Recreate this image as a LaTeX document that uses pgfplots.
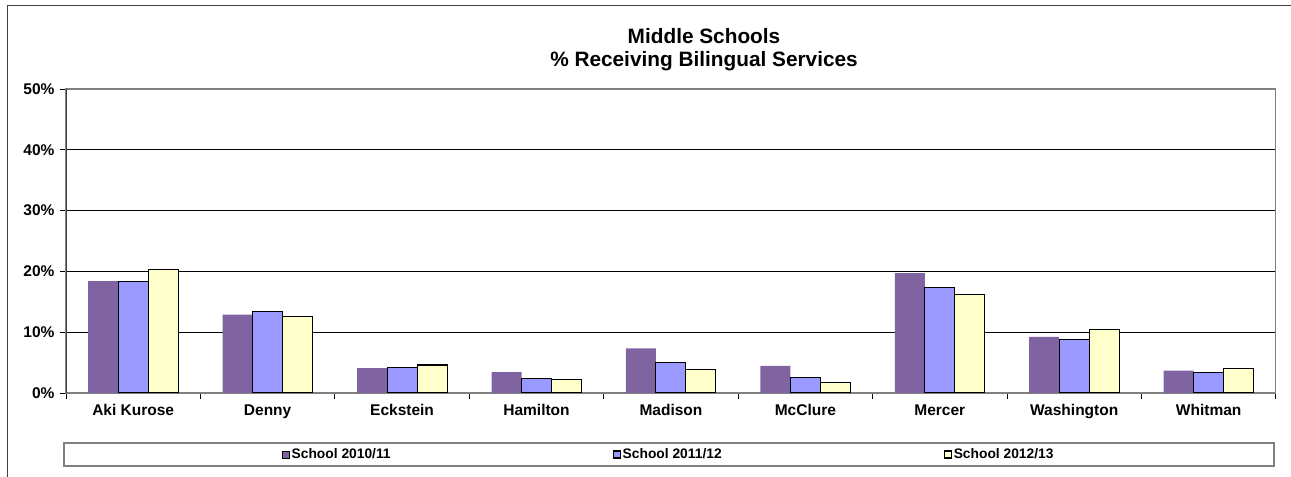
\documentclass[border=0pt]{standalone}
\usepackage{pgfplots}
\pgfplotsset{compat=1.18}
\usepackage{fontspec}
\setmainfont{Liberation Sans}
\definecolor{cpurple}{HTML}{8064A2}
\definecolor{cblue}{HTML}{9999FF}
\definecolor{cyellow}{HTML}{FFFFCC}
\definecolor{frame}{HTML}{404040}
\definecolor{axgray}{HTML}{808080}
\pgfplotsset{sqlegend/.style={legend image code/.code={\draw[##1] (0bp,-3.5bp) rectangle (7bp,3.5bp);}}}
\begin{document}
\begin{tikzpicture}
\useasboundingbox (0,0) rectangle (1291bp,477bp);
\begin{scope}
\clip (0,0) rectangle (1291bp,477bp);
\draw[frame, line width=1.2bp] (7.3bp,-5bp) -- (7.3bp,471.7bp) -- (1300bp,471.7bp);
\end{scope}
\node[font=\bfseries\fontsize{20.8bp}{23bp}\selectfont, anchor=base, inner sep=0pt] at (704bp,433bp) {Middle Schools};
\node[font=\bfseries\fontsize{20.8bp}{23bp}\selectfont, anchor=base, inner sep=0pt] at (704bp,410bp) {\% Receiving Bilingual Services};
\draw[axgray, line width=1.3bp] (64bp,11bp) rectangle (1274bp,34bp);
\begin{axis}[
  at={(66bp,84bp)}, anchor=south west,
  width=1210bp, height=304bp, scale only axis,
  xmin=0.5, xmax=9.5, ymin=0, ymax=50,
  ybar=0pt, bar width=30bp,
  xtick={0.5,1.5,...,9.5}, xticklabels={},
  extra x ticks={1,2,3,4,5,6,7,8,9},
  extra x tick labels={Aki Kurose,Denny,Eckstein,Hamilton,Madison,McClure,Mercer,Washington,Whitman},
  extra x tick style={major tick length=0pt, tick label style={yshift=-8bp}},
  ytick={0,10,20,30,40,50},
  yticklabels={0\%,10\%,20\%,30\%,40\%,50\%},
  yticklabel style={xshift=-2bp},
  tick align=outside, major tick length=6bp, tick pos=left,
  ymajorgrids, grid style={black, line width=0.8bp},
  axis line style={draw=axgray, line width=1.1bp},
  tick style={black, line width=0.8bp},
  tick label style={font=\bfseries\fontsize{15.5bp}{18bp}\selectfont},
  legend style={draw=none, fill=none, at={(rel axis cs:0.4983,-0.2023)}, anchor=center,
    font=\bfseries\fontsize{13.8bp}{16bp}\selectfont,
    /tikz/every even column/.append style={column sep=220bp}},
  legend columns=3,
]
\addplot[sqlegend, fill=cpurple, draw=none] coordinates {(1,18.4) (2,12.9) (3,4.1) (4,3.45) (5,7.35) (6,4.45) (7,19.7) (8,9.25) (9,3.7)};
\addplot[sqlegend, fill=cblue, draw=black, line width=1.1bp] coordinates {(1,18.4) (2,13.4) (3,4.2) (4,2.4) (5,5.05) (6,2.5) (7,17.4) (8,8.8) (9,3.3)};
\addplot[sqlegend, fill=cyellow, draw=black, line width=1.1bp] coordinates {(1,20.3) (2,12.6) (3,4.6) (4,2.2) (5,3.9) (6,1.75) (7,16.2) (8,10.4) (9,4.05)};
\legend{School 2010/11,School 2011/12,School 2012/13}
\draw[frame, line width=1.2bp] (rel axis cs:0,0) -- (rel axis cs:0,1);
\end{axis}
\end{tikzpicture}
\end{document}
